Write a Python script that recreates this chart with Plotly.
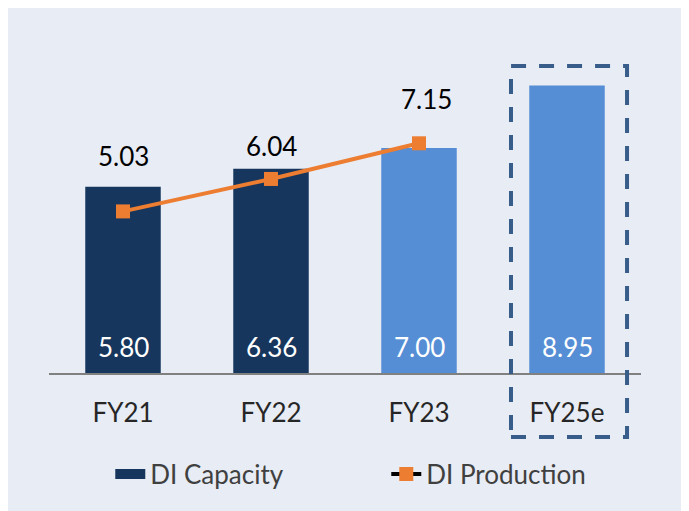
import plotly.graph_objects as go

categories = ["FY21", "FY22", "FY23", "FY25e"]
capacity = [5.80, 6.36, 7.00, 8.95]
production = [5.03, 6.04, 7.15]
bar_colors = ["#17365D", "#17365D", "#558ED5", "#558ED5"]
prod_label_yshift = [55, 33, 44]
prod_label_xshift = [0, 0, 7]

FONT = "Lato"
BG = "#E8ECF4"

fig = go.Figure()
fig.add_trace(go.Bar(
    x=categories, y=capacity, name="DI Capacity",
    marker=dict(color=bar_colors, line=dict(width=0)),
    width=0.51, showlegend=False,
))
# legend-only entry drawn as a wide navy swatch
fig.add_trace(go.Scatter(
    x=[None], y=[None], name="DI Capacity", mode="lines",
    line=dict(color="#17365D", width=17), showlegend=True,
))
fig.add_trace(go.Scatter(
    x=categories[:len(production)], y=production, name="DI Production",
    mode="lines+markers",
    line=dict(color="#ED7D31", width=4),
    marker=dict(symbol="square", size=14, color="#ED7D31"),
    showlegend=False,
))
# legend-only entry (black line, orange marker as in the original legend)
fig.add_trace(go.Scatter(
    x=[None], y=[None], name="DI Production", mode="lines+markers",
    line=dict(color="#000000", width=4),
    marker=dict(symbol="square", size=14, color="#ED7D31"),
    showlegend=True,
))

annotations = []
for c, v in zip(categories, capacity):
    annotations.append(dict(x=c, y=0, xref="x", yref="y", text=f"{v:.2f}",
                            showarrow=False, yanchor="middle", yshift=26,
                            font=dict(family=FONT, size=26, color="white")))
for c, v, ys, xs in zip(categories, production, prod_label_yshift, prod_label_xshift):
    annotations.append(dict(x=c, y=v, xref="x", yref="y", text=f"{v:.2f}",
                            showarrow=False, yanchor="middle", yshift=ys, xshift=xs,
                            font=dict(family=FONT, size=26, color="black")))

shapes = [
    dict(type="rect", xref="paper", yref="paper", x0=0.7804, x1=0.9764, y0=-0.1899, y1=0.911,
         fillcolor="rgba(0,0,0,0)", line=dict(color="#385D8A", width=4, dash="15px,13px"),
         layer="above"),
]

fig.update_layout(
    width=681, height=511,
    margin=dict(l=41, r=48, t=28, b=146),
    paper_bgcolor=BG, plot_bgcolor=BG,
    font=dict(family=FONT, size=26, color="#262626"),
    shapes=shapes, annotations=annotations,
    xaxis=dict(type="category", range=[-0.5, 3.5], showline=True, linecolor="#808080",
               linewidth=2, showgrid=False, ticks="outside", ticklen=16,
               tickcolor="rgba(0,0,0,0)", tickfont=dict(family=FONT, size=26, color="#262626")),
    yaxis=dict(range=[0, 10.49], visible=False, showgrid=False, zeroline=False),
    legend=dict(orientation="h", x=0.1035, xanchor="left", y=-0.3, yanchor="middle",
                font=dict(family=FONT, size=26, color="#404040"),
                bgcolor="rgba(0,0,0,0)", entrywidth=231, entrywidthmode="pixels"),
    showlegend=True,
)

fig.write_html("out.html")
